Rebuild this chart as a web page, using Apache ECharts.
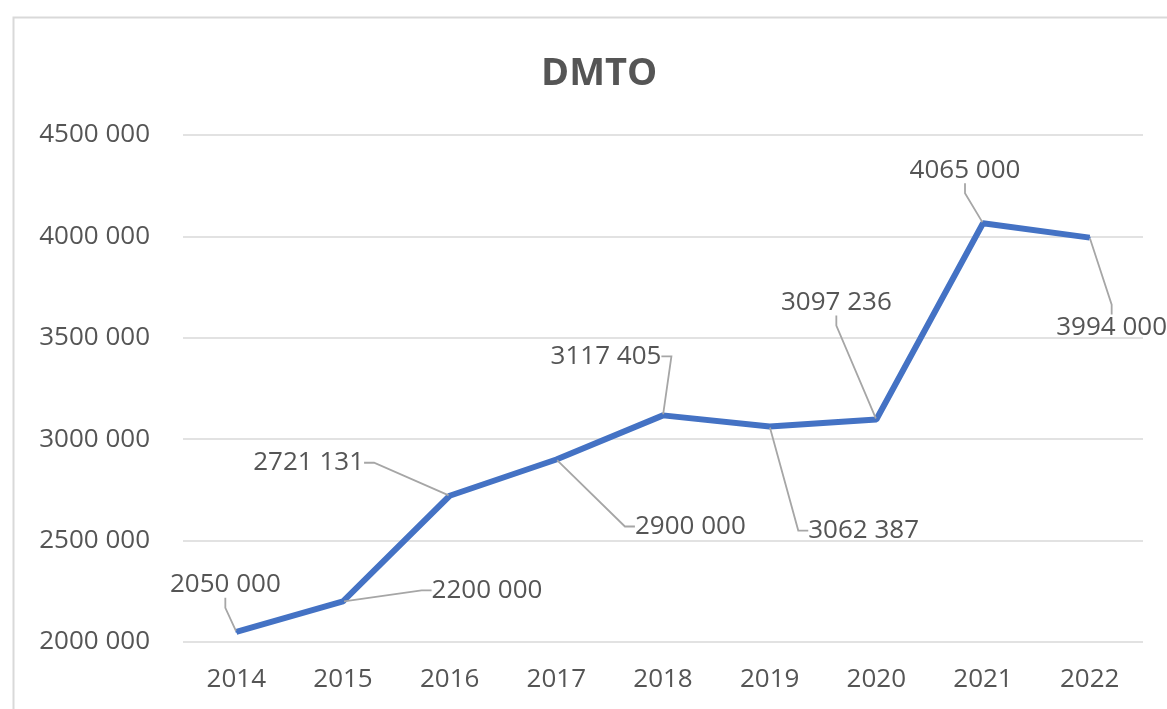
<!DOCTYPE html>
<html>
<head>
<meta charset="utf-8">
<script src="https://cdn.jsdelivr.net/npm/echarts@6/dist/echarts.min.js"></script>
<style>
  html, body { margin: 0; padding: 0; background: #fff; }
  #chart { width: 1167px; height: 709px; }
</style>
</head>
<body>
<div id="chart"></div>
<script>
// data
const years = ['2014', '2015', '2016', '2017', '2018', '2019', '2020', '2021', '2022'];
const values = [2050000, 2200000, 2721131, 2900000, 3117405, 3062387, 3097236, 4065000, 3994000];
// where each value label sits relative to its point (dx, dy)
const labelShift = [[-11, -47], [144, -11], [-141, -33], [134, 67], [-57, -59], [94, 104], [-40, -117], [-18, -53], [22, 90]];

const textColor = '#555555';
const font = '"Open Sans", "Noto Sans", sans-serif';

// "4500 000" style: only the last group is split off
function fmt(v) {
  const s = String(Math.round(v));
  return s.length > 3 ? s.slice(0, -3) + ' ' + s.slice(-3) : s;
}

const chart = echarts.init(document.getElementById('chart'));
chart.setOption({
  animation: false,
  title: {
    text: 'DMTO',
    left: 536,
    top: 50,
    textStyle: { color: textColor, fontSize: 38, fontWeight: 'bold', fontFamily: font }
  },
  graphic: [{
    type: 'rect',
    left: 11,
    top: 15,
    shape: { width: 1200, height: 760 },
    style: { fill: 'none', stroke: '#d9d9d9', lineWidth: 2 },
    silent: true
  }],
  grid: { left: 183, right: 24, top: 135, bottom: 67 },
  xAxis: {
    type: 'category',
    data: years,
    boundaryGap: true,
    axisLine: { show: false },
    axisTick: { show: false },
    axisLabel: { color: textColor, fontSize: 26, fontFamily: font, margin: 25 }
  },
  yAxis: {
    type: 'value',
    min: 2000000,
    max: 4500000,
    interval: 500000,
    axisLine: { show: false },
    axisTick: { show: false },
    splitLine: { lineStyle: { color: '#d9d9d9', width: 1.5 } },
    axisLabel: { color: textColor, fontSize: 26, fontFamily: font, margin: 33, formatter: fmt }
  },
  series: [{
    name: 'DMTO',
    type: 'line',
    data: values,
    symbol: 'circle',
    symbolSize: 2,
    itemStyle: { color: '#4472c4' },
    lineStyle: { color: '#4472c4', width: 6 },
    label: {
      show: true,
      position: 'inside',
      color: textColor,
      fontSize: 26,
      fontFamily: font,
      formatter: p => fmt(p.value)
    },
    labelLine: {
      show: true,
      length2: 10,
      lineStyle: { color: '#a6a6a6', width: 1.8 }
    },
    labelLayout: p => ({ dx: labelShift[p.dataIndex][0], dy: labelShift[p.dataIndex][1] })
  }]
});
</script>
</body>
</html>
